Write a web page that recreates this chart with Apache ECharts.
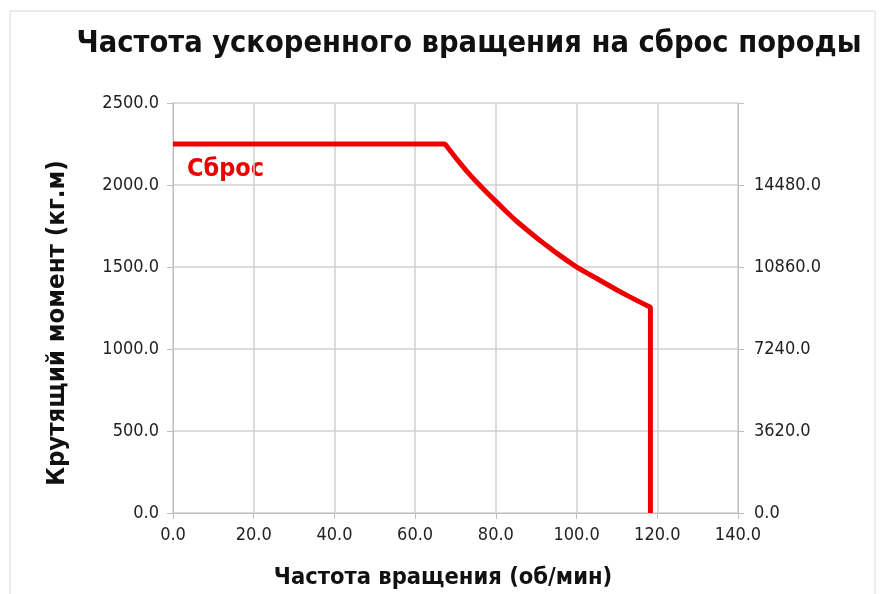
<!DOCTYPE html>
<html>
<head>
<meta charset="utf-8">
<script src="https://cdn.jsdelivr.net/npm/echarts@6/dist/echarts.min.js"></script>
<style>
    html, body { margin: 0; padding: 0; background: #fff; }
    #main { width: 884px; height: 594px; }
</style>
</head>
<body>
<div id="main"></div>
<script>
    // данные
    var speedData = [0, 67.4, 70, 72.5, 75, 77.5, 80, 82.5, 85, 87.5, 90, 92.5, 95, 97.5, 100, 102.5, 105, 107.5, 110, 112.5, 115, 118.3, 118.3];
    var torqueData = [2250, 2250, 2168, 2092, 2024, 1960, 1900, 1840, 1782, 1730, 1680, 1632, 1586, 1542, 1500, 1464, 1430, 1395, 1360, 1327, 1295, 1255, 0];
    var rightTicks = [0, 3620, 7240, 10860, 14480];
    var seriesName = 'Сброс';

    var points = [];
    for (var i = 0; i < speedData.length; i++) {
        points.push([speedData[i], torqueData[i]]);
    }

    var myChart = echarts.init(document.getElementById('main'));
    var boldFont = 'Liberation Sans Narrow, DejaVu Sans Condensed, Roboto';
    var tickFont = 'DejaVu Sans Condensed, DejaVu Sans';
    var tickFmt = function (v) { return v.toFixed(1); };

    var option = {
        backgroundColor: '#fff',
        animation: false,
        title: {
            text: 'Частота ускоренного вращения на сброс породы',
            left: 464,
            textAlign: 'center',
            top: 24,
            textStyle: {fontSize: 30.5, fontWeight: 'bold', color: '#111', fontFamily: boldFont}
        },
        graphic: [
            {
                type: 'rect',
                shape: {x: 10, y: 11, width: 865, height: 600},
                style: {fill: 'none', stroke: '#d9d9d9', lineWidth: 1},
                silent: true
            },
            {
                type: 'text',
                x: 187,
                y: 157,
                style: {text: seriesName, fill: '#ee0000', font: 'bold 25px ' + boldFont}
            },
            {
                type: 'text',
                x: 57,
                y: 323,
                rotation: Math.PI / 2,
                style: {
                    text: 'Крутящий момент (кг.м)',
                    fill: '#111',
                    font: 'bold 25.5px ' + boldFont,
                    align: 'center',
                    verticalAlign: 'middle'
                }
            },
            {
                type: 'text',
                x: 443,
                y: 578,
                style: {
                    text: 'Частота вращения (об/мин)',
                    fill: '#111',
                    font: 'bold 23.5px ' + boldFont,
                    align: 'center',
                    verticalAlign: 'middle'
                }
            }
        ],
        grid: {left: 173, right: 146, top: 103, bottom: 81},
        xAxis: {
            type: 'value',
            min: 0,
            max: 140,
            interval: 20,
            axisLine: {show: true, lineStyle: {color: '#bfbfbf'}},
            axisTick: {show: true, length: 6, lineStyle: {color: '#bfbfbf'}},
            axisLabel: {formatter: tickFmt, margin: 13, color: '#222', fontSize: 18, fontFamily: tickFont},
            splitLine: {lineStyle: {color: '#d0d0d0', width: 1.5}}
        },
        yAxis: [
            {
                type: 'value',
                min: 0,
                max: 2500,
                interval: 500,
                axisLine: {show: true, lineStyle: {color: '#bfbfbf'}},
                axisTick: {show: true, length: 6, lineStyle: {color: '#bfbfbf'}},
                axisLabel: {formatter: tickFmt, margin: 14, color: '#222', fontSize: 18, fontFamily: tickFont},
                splitLine: {lineStyle: {color: '#d0d0d0', width: 1.5}}
            },
            {
                type: 'value',
                position: 'right',
                min: 0,
                max: 18100,
                interval: 3620,
                axisLine: {show: true, lineStyle: {color: '#bfbfbf'}},
                axisTick: {show: true, length: 6, lineStyle: {color: '#bfbfbf'}},
                axisLabel: {
                    formatter: function (v) {
                        return rightTicks.indexOf(v) >= 0 ? v.toFixed(1) : '';
                    },
                    margin: 16,
                    color: '#222',
                    fontSize: 18,
                    fontFamily: tickFont
                },
                splitLine: {show: false}
            }
        ],
        series: [{
            name: seriesName,
            type: 'line',
            data: points,
            showSymbol: false,
            smooth: false,
            lineStyle: {color: '#ee0000', width: 5}
        }]
    };
    myChart.setOption(option);
</script>
</body>
</html>
